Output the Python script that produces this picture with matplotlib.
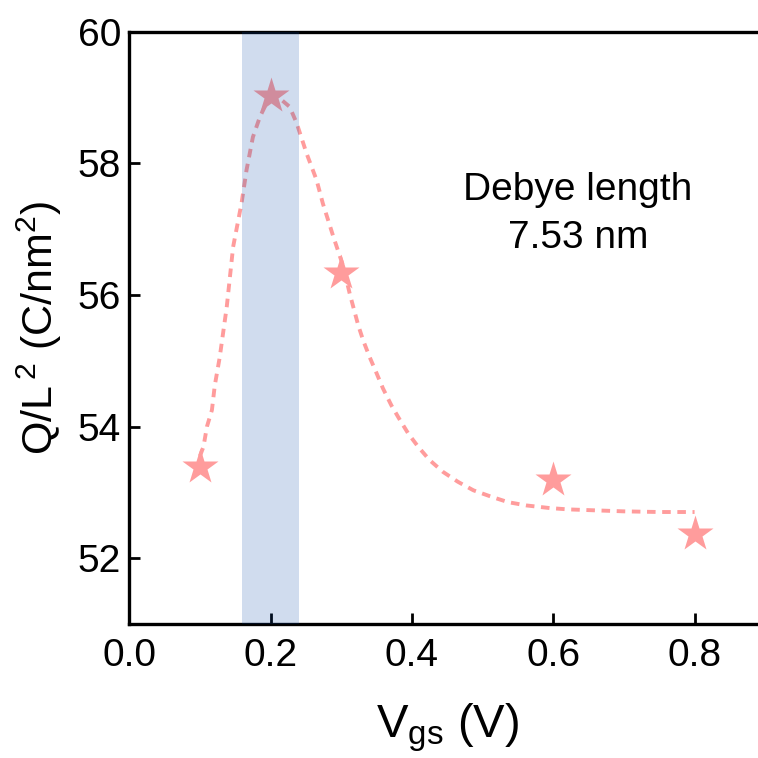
import matplotlib
matplotlib.use('Agg')
import matplotlib.pyplot as plt

# --- data ---
vgs = [0.1, 0.2, 0.3, 0.6, 0.8]
q_l2 = [53.38, 59.03, 56.33, 53.18, 52.37]

# dashed guide curve
fit_x = [0.100, 0.105, 0.110, 0.117, 0.121, 0.128, 0.138, 0.147, 0.159, 0.166,
         0.175, 0.185, 0.195, 0.205, 0.215, 0.227, 0.237, 0.251, 0.265, 0.274,
         0.289, 0.303, 0.312, 0.324, 0.331, 0.340, 0.350, 0.359, 0.371, 0.383,
         0.395, 0.409, 0.425, 0.444, 0.465, 0.487, 0.513, 0.536, 0.562, 0.595,
         0.621, 0.647, 0.700, 0.750, 0.800]
fit_y = [53.55, 53.69, 54.00, 54.25, 54.62, 55.05, 55.82, 56.73, 57.40, 57.90,
         58.40, 58.71, 58.93, 59.00, 58.97, 58.86, 58.61, 58.15, 57.75, 57.39,
         56.88, 56.43, 56.02, 55.54, 55.31, 55.06, 54.81, 54.58, 54.32, 54.10,
         53.89, 53.69, 53.49, 53.31, 53.16, 53.03, 52.93, 52.85, 52.80, 52.76,
         52.74, 52.73, 52.71, 52.70, 52.70]

band = (0.16, 0.24)
xticks = [0.0, 0.2, 0.4, 0.6, 0.8]
yticks = [52, 54, 56, 58, 60]

plt.rcParams['font.family'] = ['Liberation Sans', 'DejaVu Sans']
plt.rcParams['mathtext.fontset'] = 'custom'
plt.rcParams['mathtext.rm'] = 'Liberation Sans'
plt.rcParams['mathtext.it'] = 'Liberation Sans:italic'

pink = '#ff9c9c'

fig = plt.figure(figsize=(7.58, 7.58), dpi=100)
# 0.9 of x spans 636 px, so the right end runs just past the canvas
ax = fig.add_axes([0.1705, 0.177, 636 / 758, 0.781])

ax.plot(fit_x, fit_y, color=pink, lw=2.8, dashes=(2.2, 1.7), zorder=2)
ax.plot(vgs, q_l2, ls='none', marker='*', ms=27, color=pink, mec='none', zorder=3)
ax.axvspan(*band, color='#0848a6', alpha=0.19, lw=0, zorder=4)

ax.set_xlim(0, 0.9)
ax.set_ylim(51, 60)
ax.set_xticks(xticks)
ax.set_yticks(yticks)
ax.set_xticklabels([f'{v:.1f}' for v in xticks])

for s in ax.spines.values():
    s.set_linewidth(2.4)
ax.spines['right'].set_visible(False)

ax.tick_params(direction='in', length=8, width=2, labelsize=28)
ax.tick_params(axis='x', pad=10)
ax.tick_params(axis='y', pad=6)

ax.set_xlabel(r'$\mathregular{V_{gs}}$ (V)', fontsize=34, labelpad=20)
ax.set_ylabel(r'Q/L$\mathregular{\,^2}$ (C/nm$\mathregular{^2}$)', fontsize=31, labelpad=10)

ax.text(0.635, 57.23, 'Debye length\n7.53 nm', ha='center', va='center',
        fontsize=28, linespacing=1.45)

fig.savefig('out.png', dpi=100)
